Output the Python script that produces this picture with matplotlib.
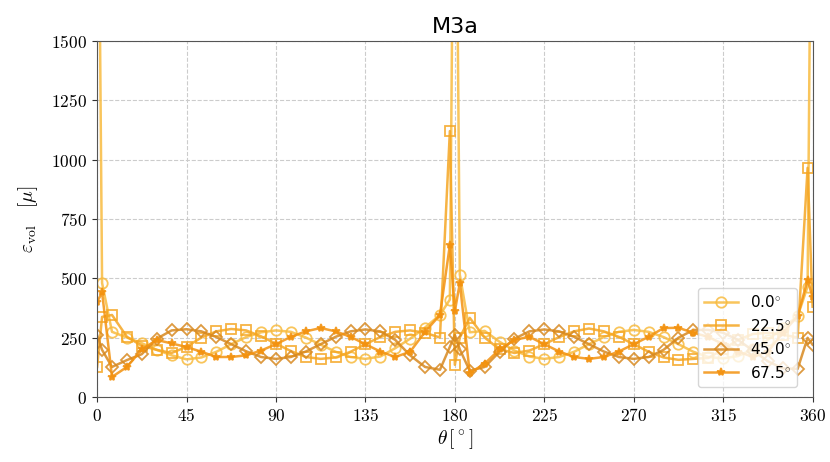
import matplotlib
matplotlib.use("Agg")
import matplotlib.pyplot as plt
from matplotlib.ticker import FuncFormatter, MultipleLocator

plt.rcParams["mathtext.fontset"] = "cm"

# Angular positions around the opening [deg]
theta = [0, 2.5, 7.5, 15, 22.5, 30, 37.5, 45, 52.5, 60, 67.5, 75, 82.5, 90,
         97.5, 105, 112.5, 120, 127.5, 135, 142.5, 150, 157.5, 165, 172.5,
         177.5, 180, 182.5, 187.5, 195, 202.5, 210, 217.5, 225, 232.5, 240,
         247.5, 255, 262.5, 270, 277.5, 285, 292.5, 300, 307.5, 315, 322.5,
         330, 337.5, 345, 352.5, 357.5, 360]

# Volumetric strain [micro] for each orientation
eps_00 = [3000, 480, 274, 250, 226, 198, 175, 158, 166, 190, 222, 252, 272, 280,
          274, 250, 220, 190, 168, 160, 170, 205, 245, 292, 345,
          410, 3000, 515, 272, 278, 232, 195, 170, 160, 168, 190,
          222, 252, 274, 282, 274, 252, 222, 190, 168, 162, 172,
          200, 240, 290, 340, 465, 3000]
eps_225 = [126, 337, 345, 253, 215, 198, 185, 211, 250, 276, 286, 280, 255, 224,
           193, 168, 160, 166, 190, 222, 252, 274, 280, 270, 250,
           1120, 135, 250, 333, 250, 200, 185, 195, 222, 252, 276,
           288, 276, 253, 222, 190, 166, 156, 160, 164, 200, 240,
           265, 270, 262, 250, 965, 380]
eps_450 = [260, 198, 126, 155, 180, 245, 280, 285, 276, 252, 222, 192, 168, 160,
           168, 191, 222, 253, 276, 284, 276, 240, 175, 126, 114,
           211, 261, 200, 110, 126, 190, 245, 276, 284, 276, 253,
           222, 191, 168, 160, 168, 198, 249, 282, 282, 270, 240,
           195, 150, 120, 118, 249, 220]
eps_675 = [400, 440, 84, 126, 200, 240, 225, 210, 190, 168, 168, 175, 195, 222,
           253, 276, 290, 276, 253, 222, 191, 168, 190, 274, 345,
           640, 360, 480, 100, 140, 200, 240, 253, 222, 191, 168,
           160, 168, 191, 222, 253, 290, 291, 270, 253, 222, 191,
           168, 190, 270, 340, 493, 420]

labels = [r"0.0$^{\circ}$", r"22.5$^{\circ}$", r"45.0$^{\circ}$", r"67.5$^{\circ}$"]
series = [eps_00, eps_225, eps_450, eps_675]
colors = ["#f8bb3f", "#f5a623", "#d8891f", "#f3920f"]
markers = ["o", "s", "D", "*"]
msizes = [7.5, 7.5, 6.5, 6]
filled = [False, False, False, True]

fig = plt.figure(figsize=(8.3, 4.62), dpi=100)
ax = fig.add_axes([0.117, 0.141, 0.862, 0.7705])

for y, lab, c, m, ms, f in zip(series, labels, colors, markers, msizes, filled):
    ax.plot(theta, y, color=c, marker=m, markersize=ms, linewidth=1.8,
            markerfacecolor=c if f else "none", markeredgecolor=c,
            markeredgewidth=1.3, alpha=0.85, label=lab)

ax.set_xlim(0, 360)
ax.set_ylim(0, 1500)
ax.xaxis.set_major_locator(MultipleLocator(45))
ax.yaxis.set_major_locator(MultipleLocator(250))
fmt = FuncFormatter(lambda v, p: r"$%d$" % int(round(v)))
ax.xaxis.set_major_formatter(fmt)
ax.yaxis.set_major_formatter(fmt)
ax.tick_params(labelsize=12.5, color="#333333")
ax.grid(True, linestyle="--", color="#cccccc", linewidth=0.8)
for s in ax.spines.values():
    s.set_color("#555555")

ax.set_title("M3a", fontsize=16, pad=6)
ax.set_xlabel(r"$\theta\,[^\circ]$", fontsize=14, labelpad=2)
ax.set_ylabel(r"$\varepsilon_{\mathrm{vol}}\quad[\mu]$", fontsize=14, labelpad=8)

ax.legend(loc="lower right", bbox_to_anchor=(0.985, 0.015), fontsize=11,
          framealpha=0.8, handlelength=2.2, borderaxespad=0.3)

fig.savefig("out.png", dpi=100)
